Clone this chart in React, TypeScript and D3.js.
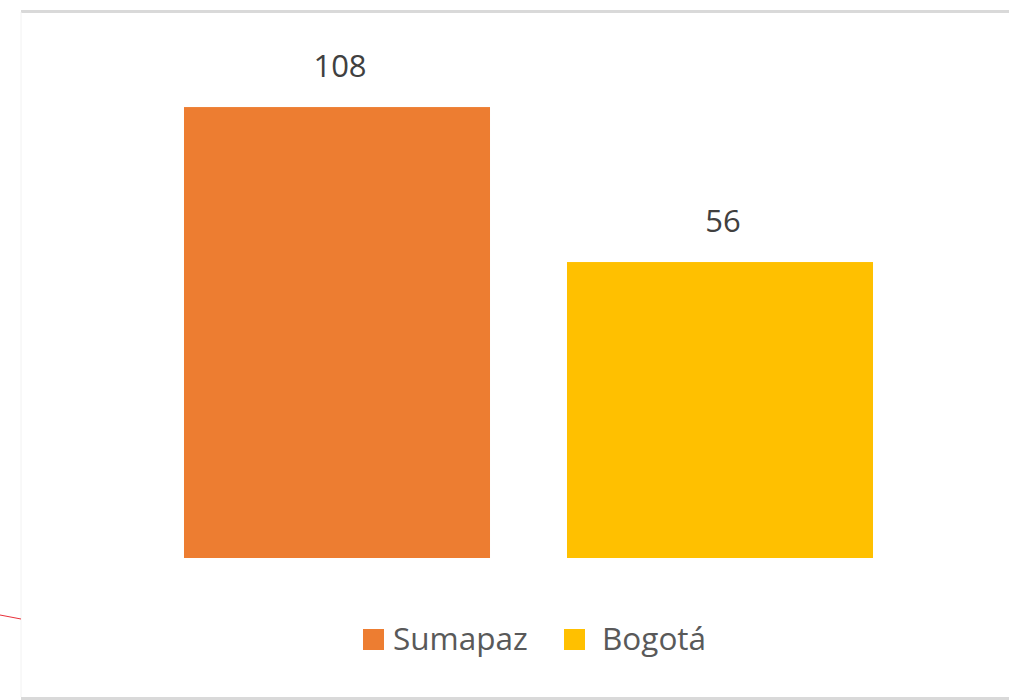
import { scaleBand, scaleLinear } from 'd3'

// values
const categories = ['Sumapaz', 'Bogotá']
const values = [108, 56]
const colors = ['#ED7D31', '#FFC000']

const App = () => {
  const width = 1009
  const height = 700
  const plotLeft = 145.5
  const plotRight = 911.5
  const plotTop = 40
  const plotBottom = 558

  // excel-ish auto axis: the bars don't start at zero
  const yScale = scaleLinear().domain([-43.3, 130.5]).range([plotBottom, plotTop])

  const xScale = scaleBand()
    .domain(categories)
    .range([plotLeft, plotRight])
    .paddingInner(0.201)
    .paddingOuter(0.1005)

  const font = "'Open Sans', 'Noto Sans', sans-serif"

  return (
    <svg
      width={width}
      height={height}
      style={{ position: 'absolute', left: 0, top: 0, background: '#fff' }}
    >
      {/* chart frame */}
      <line x1={21} y1={11.5} x2={width} y2={11.5} stroke='#d9d9d9' strokeWidth={3} />
      <line x1={21} y1={698.5} x2={width} y2={698.5} stroke='#d9d9d9' strokeWidth={3} />
      <line x1={21} y1={12} x2={21} y2={697} stroke='#f2f2f2' strokeWidth={1} />
      <line x1={0} y1={615} x2={21} y2={619} stroke='#e8303a' strokeWidth={1} />

      {categories.map((c, i) => (
        <g key={c}>
          <rect
            x={xScale(c)}
            y={yScale(values[i])}
            width={xScale.bandwidth()}
            height={plotBottom - yScale(values[i])}
            fill={colors[i]}
          />
          <text
            x={(xScale(c) as number) + xScale.bandwidth() / 2 + 3}
            y={yScale(values[i]) - 30}
            textAnchor='middle'
            fontFamily={font}
            fontSize={31}
            fill='#404040'
          >
            {values[i]}
          </text>
        </g>
      ))}

      {/* legend */}
      {categories.map((c, i) => {
        let lx = i === 0 ? 363 : 564
        return (
          <g key={c} transform={`translate(${lx},629)`}>
            <rect x={0} y={0} width={21} height={21} fill={colors[i]} />
            <text
              x={i === 0 ? 30 : 38}
              y={21}
              fontFamily={font}
              fontSize={31.5}
              fill='#595959'
            >
              {c}
            </text>
          </g>
        )
      })}
    </svg>
  )
}

export default App
